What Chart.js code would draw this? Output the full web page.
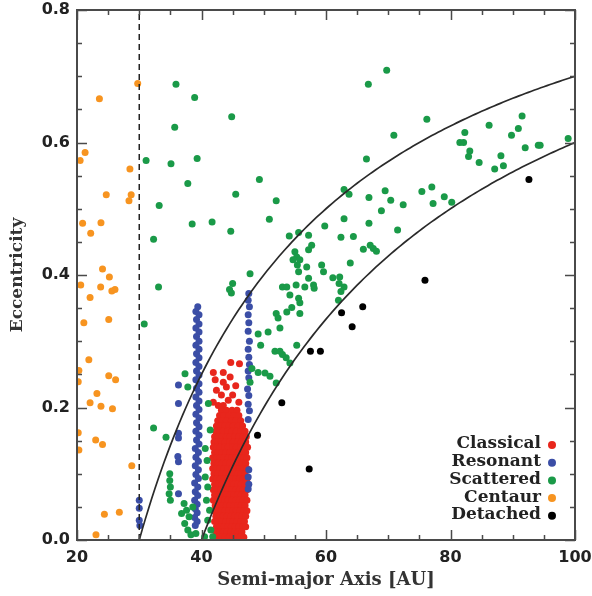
<!DOCTYPE html>
<html>
<head>
<meta charset="utf-8">
<script src="https://cdn.jsdelivr.net/npm/chart.js@4.4.0/dist/chart.umd.min.js"></script>
<style>
  html, body { margin: 0; padding: 0; background: #fff; }
</style>
</head>
<body>
<canvas id="chart" width="592" height="596"></canvas>
<script>
// series names and colours
const seriesNames = ["Classical", "Resonant", "Scattered", "Centaur", "Detached"];
const seriesColors = ["#e8261c", "#3b4ea6", "#1a9a48", "#f79420", "#000000"];

// classical belt, rows of [eccentricity, [semi-major axes]]
const classicalRows = [
  [0.268, [44.7]], [0.266, [46.1]], [0.253, [41.9, 43.5]], [0.246, [44.6]], [0.242, [42.2]], [0.238, [43.5]],
  [0.233, [45.5]], [0.231, [44.0]], [0.226, [42.4]], [0.219, [43.2, 45.0]], [0.211, [44.3]], [0.208, [41.9, 46.0]],
  [0.203, [43.5, 42.7]],
  [0.196, [43.2, 44.0, 44.9, 45.7]],
  [0.188, [42.9, 43.6, 44.4, 45.2, 46.0]],
  [0.180, [42.6, 43.3, 44.0, 44.8, 45.5, 46.3]],
  [0.172, [42.4, 43.0, 43.7, 44.4, 45.1, 45.9, 46.6]],
  [0.164, [42.3, 42.9, 43.5, 44.2, 44.9, 45.6, 46.3, 47.0]],
  [0.156, [42.1, 42.7, 43.3, 44.0, 44.6, 45.3, 46.0, 46.7, 47.2]],
  [0.148, [42.0, 42.6, 43.2, 43.8, 44.5, 45.1, 45.8, 46.4, 47.1]],
  [0.140, [41.9, 42.5, 43.0, 43.7, 44.3, 45.0, 45.6, 46.3, 46.9, 47.4]],
  [0.132, [42.1, 42.7, 43.3, 43.9, 44.6, 45.2, 45.9, 46.5, 47.1]],
  [0.124, [41.8, 42.4, 43.0, 43.6, 44.3, 44.9, 45.5, 46.2, 46.8, 47.3]],
  [0.116, [42.0, 42.7, 43.3, 43.9, 44.5, 45.2, 45.8, 46.5, 47.1]],
  [0.108, [41.8, 42.4, 43.0, 43.6, 44.2, 44.9, 45.5, 46.1, 46.8, 47.3]],
  [0.100, [42.0, 42.6, 43.3, 43.9, 44.5, 45.1, 45.8, 46.4, 47.0]],
  [0.092, [41.8, 42.4, 43.0, 43.6, 44.2, 44.8, 45.5, 46.1, 46.7, 47.3]],
  [0.084, [42.1, 42.7, 43.3, 43.9, 44.5, 45.2, 45.8, 46.4, 47.0]],
  [0.076, [41.9, 42.5, 43.1, 43.7, 44.3, 44.9, 45.5, 46.1, 46.7, 47.3]],
  [0.068, [42.1, 42.8, 43.4, 44.0, 44.6, 45.2, 45.8, 46.4, 47.0]],
  [0.060, [41.9, 42.5, 43.1, 43.7, 44.3, 44.9, 45.5, 46.1, 46.7, 47.3]],
  [0.052, [42.2, 42.8, 43.4, 44.0, 44.6, 45.2, 45.8, 46.4, 47.0]],
  [0.044, [42.0, 42.6, 43.2, 43.8, 44.4, 45.0, 45.6, 46.2, 46.8, 47.3]],
  [0.036, [42.3, 42.9, 43.5, 44.1, 44.7, 45.3, 45.9, 46.5, 47.1]],
  [0.028, [42.1, 42.7, 43.3, 43.9, 44.5, 45.1, 45.7, 46.3, 46.9]],
  [0.020, [42.4, 43.0, 43.6, 44.2, 44.8, 45.4, 46.0, 46.6, 47.1]],
  [0.012, [42.3, 42.9, 43.5, 44.1, 44.7, 45.3, 45.9, 46.5]],
  [0.004, [42.6, 43.2, 43.8, 44.4, 45.0, 45.6, 46.2, 46.8]]
];

// resonant objects [a, e]
const resonant = [
  // 3:2
  [39.4, 0.352], [39.1, 0.345], [39.6, 0.340], [39.2, 0.333], [39.6, 0.326], [39.1, 0.320], [39.6, 0.314],
  [39.2, 0.307], [39.6, 0.300], [39.1, 0.294], [39.6, 0.288], [39.2, 0.281], [39.6, 0.275], [39.1, 0.268],
  [39.6, 0.262], [39.2, 0.255], [39.6, 0.249], [39.1, 0.242], [39.6, 0.236], [39.2, 0.229], [39.6, 0.223],
  [39.1, 0.216], [39.6, 0.210], [39.2, 0.203], [39.6, 0.197], [39.1, 0.190], [39.6, 0.184], [39.2, 0.177],
  [39.6, 0.171], [39.1, 0.164], [39.6, 0.158], [39.2, 0.151], [39.6, 0.145], [39.0, 0.138], [39.5, 0.132],
  [39.1, 0.125], [39.5, 0.119], [39.0, 0.112], [39.5, 0.106], [39.1, 0.099], [39.5, 0.093], [38.9, 0.086],
  [39.4, 0.080], [39.0, 0.073], [39.4, 0.067], [38.9, 0.060], [39.3, 0.054], [39.0, 0.047], [39.3, 0.041],
  [38.9, 0.034], [39.3, 0.028], [39.0, 0.022],
  // 2:1
  [47.6, 0.372], [47.5, 0.362], [47.7, 0.352], [47.5, 0.340], [47.6, 0.328], [47.5, 0.315], [47.7, 0.300],
  [47.5, 0.288], [47.6, 0.276], [47.7, 0.265], [47.5, 0.255], [47.6, 0.245], [47.4, 0.228], [47.6, 0.218],
  [47.5, 0.205], [47.7, 0.195], [47.5, 0.182], [47.6, 0.106], [47.5, 0.095], [47.6, 0.084], [47.5, 0.077],
  // 4:3
  [36.3, 0.234], [36.3, 0.206], [36.3, 0.161], [36.3, 0.154], [36.2, 0.126], [36.3, 0.118], [36.3, 0.070],
  // 1:1 Neptune trojans
  [30.0, 0.060], [30.0, 0.048], [30.0, 0.030], [30.1, 0.022]
];

// scattered disk objects [a, e]
const scattered = [
  [35.9, 0.688], [38.9, 0.668], [35.7, 0.623], [31.1, 0.573], [35.1, 0.568], [39.3, 0.576], [44.85, 0.639],
  [49.3, 0.544], [37.8, 0.538], [33.2, 0.505], [38.5, 0.477], [32.3, 0.454], [33.1, 0.382], [30.8, 0.326],
  [45.5, 0.522], [52.0, 0.512], [41.7, 0.480], [44.7, 0.466], [50.9, 0.484], [59.8, 0.474], [54.1, 0.459],
  [55.6, 0.464], [57.2, 0.460], [57.7, 0.445], [57.2, 0.438], [55.0, 0.435], [55.3, 0.427], [55.8, 0.423],
  [54.7, 0.423], [55.4, 0.415], [59.3, 0.415], [56.9, 0.412], [55.6, 0.405], [59.6, 0.405], [47.8, 0.402],
  [57.2, 0.395], [55.2, 0.385], [56.6, 0.382], [58.0, 0.385], [58.1, 0.380], [53.0, 0.382], [53.7, 0.382],
  [45.0, 0.387], [44.5, 0.378], [44.8, 0.373], [54.2, 0.370], [55.6, 0.365], [55.8, 0.358], [54.5, 0.351],
  [53.7, 0.344], [52.0, 0.342], [52.3, 0.335], [55.8, 0.342], [52.6, 0.320], [50.7, 0.314], [49.1, 0.311],
  [49.5, 0.294], [51.8, 0.285], [52.6, 0.285], [55.3, 0.294],
  [54.2, 0.267], [53.6, 0.275], [53.0, 0.280], [50.2, 0.252], [51.0, 0.247], [52.0, 0.237], [49.1, 0.253],
  [48.1, 0.259], [47.8, 0.238], [41.1, 0.206], [41.4, 0.166], [40.6, 0.138],
  [69.75, 0.709], [66.8, 0.688], [76.2, 0.635], [70.9, 0.611], [66.5, 0.575], [81.5, 0.600], [62.9, 0.529],
  [63.7, 0.522], [66.9, 0.517], [69.5, 0.527], [75.4, 0.526], [77.0, 0.533], [79.0, 0.518], [70.4, 0.513],
  [72.4, 0.506], [68.9, 0.497], [77.2, 0.508], [80.2, 0.510], [62.9, 0.485], [66.9, 0.478], [71.5, 0.468],
  [62.4, 0.457], [64.4, 0.458], [66.0, 0.439], [67.1, 0.445], [67.6, 0.440], [68.1, 0.436], [63.9, 0.418],
  [61.1, 0.396], [62.2, 0.397], [62.1, 0.387], [62.9, 0.382], [62.4, 0.375], [62.0, 0.362],
  [82.3, 0.615], [82.1, 0.600], [83.1, 0.587], [82.9, 0.579], [84.6, 0.570], [86.2, 0.626], [87.1, 0.560],
  [88.1, 0.580], [88.5, 0.565], [89.8, 0.611], [90.9, 0.621], [91.5, 0.640], [92.0, 0.592], [94.1, 0.596],
  [94.4, 0.596], [98.9, 0.606],
  [37.35, 0.251], [37.8, 0.231], [32.3, 0.169], [34.3, 0.155], [34.9, 0.100], [34.9, 0.090], [35.0, 0.080],
  [34.8, 0.070], [35.0, 0.060], [37.2, 0.055], [37.6, 0.045], [38.0, 0.035], [37.3, 0.025], [37.8, 0.015],
  [38.3, 0.008], [36.8, 0.040], [38.6, 0.050], [40.6, 0.095], [41.0, 0.080], [40.8, 0.060], [41.3, 0.045],
  [41.0, 0.030], [41.5, 0.015], [40.5, 0.005], [41.8, 0.005], [39.1, 0.010], [40.9, 0.120]
];

// centaurs [a, e]
const centaur = [
  [29.75, 0.689], [23.6, 0.666], [21.3, 0.585], [20.5, 0.573], [28.5, 0.560], [24.7, 0.521], [28.7, 0.521],
  [28.35, 0.512], [20.9, 0.478], [23.85, 0.479], [22.2, 0.463], [24.1, 0.409], [25.2, 0.397], [20.6, 0.385],
  [23.8, 0.382], [25.6, 0.376], [26.1, 0.378], [22.1, 0.366], [21.1, 0.328], [25.1, 0.333], [21.9, 0.272],
  [20.3, 0.256], [20.2, 0.239], [25.1, 0.248], [26.2, 0.242], [23.2, 0.221], [22.1, 0.207], [23.85, 0.202],
  [25.7, 0.198], [20.2, 0.162], [23.0, 0.151], [24.1, 0.144], [20.3, 0.136], [28.8, 0.112], [24.4, 0.039],
  [26.8, 0.042], [23.05, 0.008]
];

// detached objects [a, e]
const detached = [
  [92.6, 0.544], [75.9, 0.392], [65.9, 0.352], [62.5, 0.343], [64.2, 0.322], [59.1, 0.285], [57.5, 0.285],
  [52.9, 0.207], [49.0, 0.158], [57.3, 0.107]
];

// perihelion distances of the two curves, Neptune's orbit (dashed)
const perihelionQ = [30, 40];
const neptuneA = 30;

const xTickMarks = [20, 25, 30, 35, 40, 45, 50, 55, 60, 65, 70, 75, 80, 85, 90, 95, 100];
const yTickMarks = [0, 0.05, 0.1, 0.15, 0.2, 0.25, 0.3, 0.35, 0.4, 0.45, 0.5, 0.55, 0.6, 0.65, 0.7, 0.75, 0.8];

function toPoints(list) {
  return list.map(p => ({ x: p[0], y: p[1] }));
}

const classicalPoints = [];
classicalRows.forEach(row => {
  row[1].forEach(a => classicalPoints.push({ x: a, y: row[0] }));
});

function perihelionCurve(q) {
  const pts = [];
  for (let a = q; a <= 100.001; a += 0.5) pts.push({ x: a, y: 1 - q / a });
  return pts;
}

const pointSets = [classicalPoints, toPoints(resonant), toPoints(scattered), toPoints(centaur), toPoints(detached)];

const datasets = [];
perihelionQ.forEach(q => {
  datasets.push({
    label: "q = " + q, data: perihelionCurve(q), showLine: true, pointRadius: 0,
    borderColor: "#2a2a2a", borderWidth: 1.7, order: 0
  });
});
datasets.push({
  label: "Neptune", data: [{ x: neptuneA, y: 0 }, { x: neptuneA, y: 0.8 }], showLine: true,
  pointRadius: 0, borderColor: "#222", borderWidth: 1.5, borderDash: [6, 4], order: 0
});
// black on top, red at the bottom
const drawOrder = [5, 3, 2, 4, 1];
seriesNames.forEach((name, i) => {
  datasets.push({
    label: name, data: pointSets[i], pointRadius: 3.5, pointHoverRadius: 3.5,
    pointBackgroundColor: seriesColors[i], pointBorderWidth: 0, borderWidth: 0,
    showLine: false, order: drawOrder[i]
  });
});

const frameTicks = {
  id: "frameTicks",
  afterDatasetsDraw(chart) {
    const { ctx, chartArea: ca, scales: { x, y } } = chart;
    ctx.save();
    ctx.strokeStyle = "#4a4a4a";
    ctx.lineWidth = 2;
    ctx.strokeRect(ca.left, ca.top, ca.right - ca.left, ca.bottom - ca.top);
    ctx.lineWidth = 1.5;
    ctx.beginPath();
    xTickMarks.forEach(v => {
      const px = Math.round(x.getPixelForValue(v)) + 0.5;
      const len = v % 20 === 0 ? 10 : 5;
      ctx.moveTo(px, ca.bottom); ctx.lineTo(px, ca.bottom - len);
      ctx.moveTo(px, ca.top); ctx.lineTo(px, ca.top + len);
    });
    yTickMarks.forEach((v, i) => {
      const py = Math.round(y.getPixelForValue(v)) + 0.5;
      const len = i % 4 === 0 ? 10 : 5;
      ctx.moveTo(ca.left, py); ctx.lineTo(ca.left + len, py);
      ctx.moveTo(ca.right, py); ctx.lineTo(ca.right - len, py);
    });
    ctx.stroke();
    ctx.restore();
  }
};

const cornerLegend = {
  id: "cornerLegend",
  afterDraw(chart) {
    const { ctx, chartArea: ca } = chart;
    ctx.save();
    ctx.font = "bold 17px 'DejaVu Serif'";
    ctx.textAlign = "right";
    ctx.textBaseline = "middle";
    seriesNames.forEach((name, i) => {
      const yy = ca.bottom - 96 + i * 17.7;
      ctx.fillStyle = "#222";
      ctx.fillText(name, ca.right - 34, yy);
      ctx.fillStyle = seriesColors[i];
      ctx.beginPath();
      ctx.arc(ca.right - 23, yy + 1, 4, 0, Math.PI * 2);
      ctx.fill();
    });
    ctx.restore();
  }
};

new Chart(document.getElementById("chart"), {
  type: "scatter",
  data: { datasets: datasets },
  options: {
    responsive: false,
    animation: false,
    events: [],
    layout: { padding: { top: 10, right: 17, left: 0, bottom: 0 } },
    plugins: { legend: { display: false }, tooltip: { enabled: false } },
    scales: {
      x: {
        type: "linear", min: 20, max: 100,
        afterFit: s => { s.height = 56; s.paddingLeft = 0; s.paddingRight = 0; },
        grid: { display: false, drawTicks: false },
        border: { display: false },
        ticks: { stepSize: 20, padding: 8, color: "#222", font: { family: "DejaVu Sans", weight: "bold", size: 16 } },
        title: { display: true, text: "Semi-major Axis [AU]", color: "#333", padding: { top: 0, bottom: 5 },
                 font: { family: "DejaVu Serif", size: 18, weight: "bold" } }
      },
      y: {
        type: "linear", min: 0, max: 0.8,
        afterFit: s => { s.width = 77; s.paddingTop = 0; s.paddingBottom = 0; },
        grid: { display: false, drawTicks: false },
        border: { display: false },
        ticks: { stepSize: 0.2, padding: 7, color: "#222", font: { family: "DejaVu Sans", weight: "bold", size: 16 },
                 callback: v => v.toFixed(1) },
        title: { display: true, text: "Eccentricity", color: "#333", padding: { top: 7, bottom: 0 },
                 font: { family: "DejaVu Serif", size: 17, weight: "bold" } }
      }
    }
  },
  plugins: [frameTicks, cornerLegend]
});
</script>
</body>
</html>
